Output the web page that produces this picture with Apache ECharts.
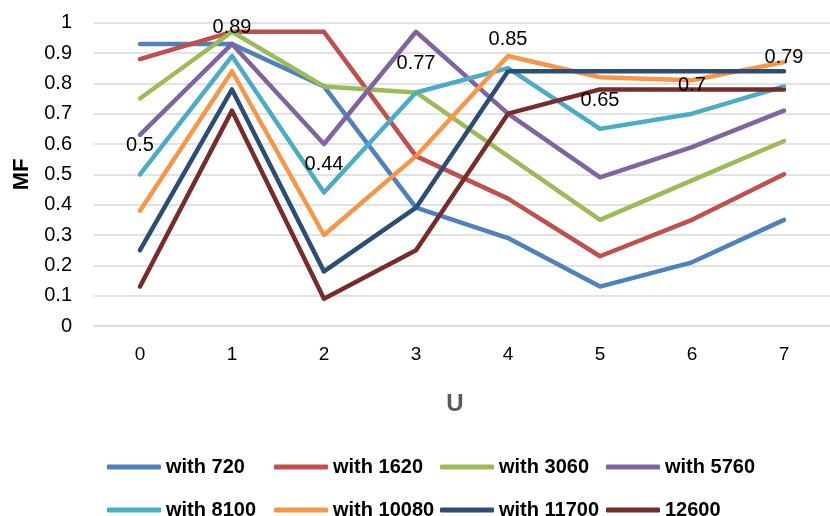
<!DOCTYPE html>
<html>
<head>
<meta charset="utf-8">
<script src="https://cdn.jsdelivr.net/npm/echarts@6/dist/echarts.min.js"></script>
<style>html,body{margin:0;padding:0;background:#fff}#c{width:830px;height:516px}</style>
</head>
<body>
<div id="c"></div>
<script>
var categories = ['0','1','2','3','4','5','6','7'];
var seriesNames = ['with 720','with 1620','with 3060','with 5760','with 8100','with 10080','with 11700','12600'];
var s720   = [0.93,0.93,0.79,0.39,0.29,0.13,0.21,0.35];
var s1620  = [0.88,0.97,0.97,0.56,0.42,0.23,0.35,0.50];
var s3060  = [0.75,0.97,0.79,0.77,0.56,0.35,0.48,0.61];
var s5760  = [0.63,0.93,0.60,0.97,0.70,0.49,0.59,0.71];
var s8100  = [0.50,0.89,0.44,0.77,0.85,0.65,0.70,0.79];
var s10080 = [0.38,0.84,0.30,0.56,0.89,0.82,0.81,0.87];
var s11700 = [0.25,0.78,0.18,0.39,0.84,0.84,0.84,0.84];
var s12600 = [0.13,0.71,0.09,0.25,0.70,0.78,0.78,0.78];
var allData = [s720,s1620,s3060,s5760,s8100,s10080,s11700,s12600];
var colors = ['#4F81BD','#C0504D','#9BBB59','#8064A2','#4BACC6','#F79646','#2C4D75','#772C2A'];
var labeledIndex = 4;

var series = allData.map(function(d,i){
  return {
    name: seriesNames[i],
    type: 'line',
    data: d,
    symbol: 'circle',
    symbolSize: 3,
    showSymbol: true,
    itemStyle: {color: colors[i]},
    lineStyle: {width: 4.5, color: colors[i], cap: 'round', join: 'round'},
    emphasis: {disabled: true},
    label: i === labeledIndex ? {
      show: true, position: 'top', distance: 17,
      fontFamily: 'Liberation Sans', fontSize: 20, color: '#000'
    } : {show: false}
  };
});

var legendCols = [102, 269, 435, 601];
var legendRows = [452, 495];
var legends = seriesNames.map(function(name,k){
  return {
    orient: 'horizontal',
    left: legendCols[k % 4],
    top: legendRows[Math.floor(k / 4)],
    itemWidth: 54,
    itemHeight: 5,
    icon: 'roundRect',
    textStyle: {fontFamily: 'Liberation Sans', fontSize: 20, fontWeight: 'bold', color: '#000'},
    data: [name],
    selectedMode: false
  };
});

var chart = echarts.init(document.getElementById('c'), null, {renderer:'canvas'});
chart.setOption({
  animation: false,
  color: colors,
  grid: {left: 94, top: 22.7, width: 766, height: 303.3, containLabel: false},
  legend: legends,
  xAxis: {
    type: 'category',
    data: categories,
    boundaryGap: true,
    name: 'U',
    nameLocation: 'middle',
    nameGap: 66,
    nameTextStyle: {fontFamily: 'Liberation Sans', fontSize: 24, fontWeight: 'bold', color: '#595959', padding: [0, 14, 0, 0]},
    axisLine: {show: true, lineStyle: {color: '#d9d9d9', width: 1.5}},
    axisTick: {show: false},
    axisLabel: {fontFamily: 'Liberation Sans', fontSize: 19, color: '#000', margin: 19}
  },
  yAxis: {
    type: 'value',
    min: 0, max: 1, interval: 0.1,
    name: 'MF',
    nameLocation: 'middle',
    nameGap: 60,
    nameTextStyle: {fontFamily: 'Liberation Sans', fontSize: 22, fontWeight: 'bold', color: '#000'},
    axisLine: {show: false},
    axisTick: {show: false},
    splitLine: {lineStyle: {color: '#d9d9d9', width: 1.5}},
    axisLabel: {fontFamily: 'Liberation Sans', fontSize: 20, color: '#000', margin: 22}
  },
  series: series
});
</script>
</body>
</html>
